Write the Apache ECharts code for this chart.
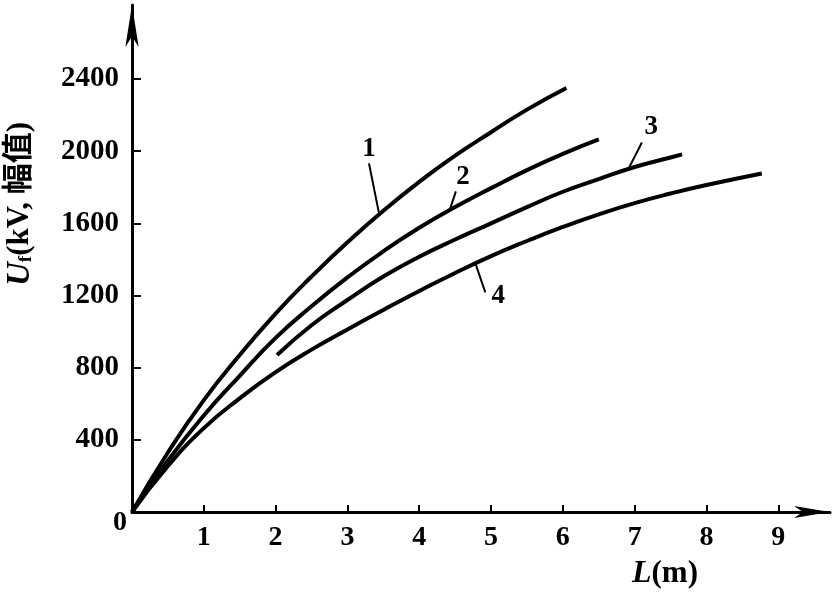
<!DOCTYPE html>
<html>
<head>
<meta charset="utf-8">
<script src="https://cdn.jsdelivr.net/npm/echarts@6/dist/echarts.min.js"></script>
<style>
  html, body { margin: 0; padding: 0; background: #fff; }
  #chart { width: 838px; height: 592px; }
</style>
</head>
<body>
<div id="chart"></div>
<script>
// 曲线数据 L(m) - U(kV)
var curve1L = [0, 0.5, 1, 1.5, 2, 2.5, 3, 3.5, 4, 4.5, 5, 5.5, 6.05];
var curve1U = [0, 330, 620, 870, 1100, 1305, 1495, 1670, 1830, 1975, 2105, 2230, 2350];

var curve2L = [0, 0.5, 1, 1.5, 2, 2.5, 3, 3.5, 4, 4.5, 5, 5.5, 6, 6.5];
var curve2U = [0, 285, 535, 755, 965, 1140, 1300, 1445, 1575, 1690, 1795, 1895, 1985, 2065];

var curve3L = [2.02, 2.5, 3, 3.5, 4, 4.5, 5, 5.5, 6, 6.5, 7, 7.5, 7.66];
var curve3U = [870, 1035, 1175, 1305, 1415, 1510, 1600, 1690, 1775, 1845, 1912, 1965, 1982];

var curve4L = [0, 0.5, 1, 1.5, 2, 2.5, 3, 3.5, 4, 4.5, 5, 5.5, 6, 6.5, 7, 7.5, 8, 8.77];
var curve4U = [0, 255, 465, 630, 775, 900, 1012, 1120, 1225, 1325, 1418, 1502, 1580, 1650, 1712, 1765, 1812, 1876];

// 刻度
var xTicks = [1, 2, 3, 4, 5, 6, 7, 8, 9];
var yTicks = [400, 800, 1200, 1600, 2000, 2400];

// 曲线编号及引线 (数据坐标)
var curveNames = ['1', '2', '3', '4'];
var namePos = [[3.30, 2009], [4.61, 1854], [7.23, 2131], [5.10, 1195]];
var leaderFrom = [[3.30, 1932], [4.51, 1777], [7.10, 2048], [4.92, 1217]];
var leaderTo = [[3.44, 1655], [4.43, 1680], [6.91, 1899], [4.78, 1380]];

var serif = '"Liberation Serif", "DejaVu Serif", "Noto Sans CJK SC", serif';

function zip(a, b) {
	var out = [];
	for (var i = 0; i < a.length; i++) {
		out.push([a[i], b[i]]);
	}
	return out;
}

function makeSeries(idx, xs, ys) {
	return {
		name: curveNames[idx],
		type: 'line',
		data: zip(xs, ys),
		smooth: true,
		showSymbol: false,
		silent: true,
		lineStyle: { color: '#000', width: 4 },
		markLine: {
			silent: true,
			symbol: ['none', 'none'],
			label: { show: false },
			lineStyle: { color: '#000', width: 2, type: 'solid' },
			data: [[{ coord: leaderFrom[idx] }, { coord: leaderTo[idx] }]]
		},
		markPoint: {
			silent: true,
			symbol: 'circle',
			symbolSize: 0,
			label: {
				show: true,
				position: 'inside',
				formatter: curveNames[idx],
				color: '#000',
				fontSize: 27,
				fontWeight: 'bold',
				fontFamily: serif
			},
			data: [{ coord: namePos[idx] }]
		}
	};
}

var chart = echarts.init(document.getElementById('chart'));

chart.setOption({
	animation: false,
	backgroundColor: '#fff',
	grid: { left: 132, right: 8, top: 5, bottom: 80, outerBoundsMode: 'none' },
	xAxis: {
		type: 'value',
		min: 0,
		max: 9.72,
		interval: 1,
		splitLine: { show: false },
		axisLine: {
			lineStyle: { color: '#000', width: 3 },
			symbol: ['none', 'arrow'],
			symbolSize: [9, 36]
		},
		axisTick: {
			inside: true,
			length: 7,
			customValues: xTicks,
			lineStyle: { color: '#000', width: 2 }
		},
		axisLabel: {
			customValues: xTicks,
			margin: 12,
			color: '#000',
			fontSize: 28,
			fontWeight: 'bold',
			fontFamily: serif
		}
	},
	yAxis: {
		type: 'value',
		min: 0,
		max: 2810,
		interval: 400,
		splitLine: { show: false },
		axisLine: {
			lineStyle: { color: '#000', width: 3 },
			symbol: ['none', 'arrow'],
			symbolSize: [10, 42]
		},
		axisTick: {
			inside: true,
			length: 9,
			customValues: yTicks,
			lineStyle: { color: '#000', width: 2 }
		},
		axisLabel: {
			customValues: yTicks,
			margin: 13,
			color: '#000',
			fontSize: 29,
			fontWeight: 'bold',
			fontFamily: serif,
			formatter: function (v) { return String(v); }
		}
	},
	graphic: [
		{
			// 纵轴名称
			type: 'text',
			x: 20,
			y: 204,
			rotation: Math.PI / 2,
			style: {
				text: '{u|U}{s|f}{n|(kV, 幅值)}',
				align: 'center',
				verticalAlign: 'middle',
				fill: '#000',
				rich: {
					u: { fontSize: 33, fontStyle: 'italic', fontWeight: 'bold', fontFamily: serif },
					s: { fontSize: 19, fontWeight: 'bold', fontFamily: serif, padding: [12, 0, 0, 0] },
					n: { fontSize: 31, fontWeight: 'bold', fontFamily: serif }
				}
			}
		},
		{
			// 横轴名称
			type: 'text',
			x: 665,
			y: 574,
			style: {
				text: '{l|L}{n|(m)}',
				align: 'center',
				verticalAlign: 'middle',
				fill: '#000',
				rich: {
					l: { fontSize: 32, fontStyle: 'italic', fontWeight: 'bold', fontFamily: serif },
					n: { fontSize: 31, fontWeight: 'bold', fontFamily: serif }
				}
			}
		},
		{
			// 原点
			type: 'text',
			x: 120,
			y: 523,
			style: {
				text: '0',
				align: 'center',
				verticalAlign: 'middle',
				fill: '#000',
				fontSize: 28,
				fontWeight: 'bold',
				fontFamily: serif
			}
		}
	],
	series: [
		makeSeries(0, curve1L, curve1U),
		makeSeries(1, curve2L, curve2U),
		makeSeries(2, curve3L, curve3U),
		makeSeries(3, curve4L, curve4U)
	]
});
</script>
</body>
</html>
